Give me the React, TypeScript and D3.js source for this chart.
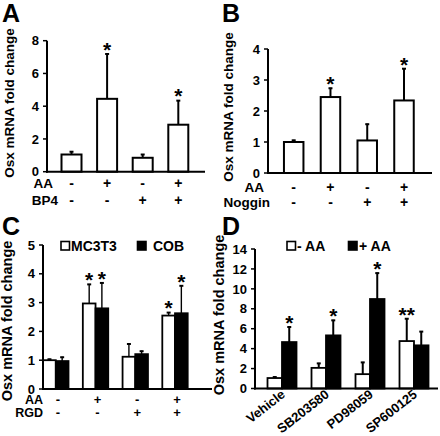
import React from "react";
import * as d3 from "d3";

// ---------- Panel A ----------
const aMeans = [1.05, 4.45, 0.85, 2.87];
const aErrTops = [1.25, 7.22, 1.08, 4.37];
const aStars = ["", "*", "", "*"];
const aTicks = [0, 2, 4, 6, 8];
const aRow1 = ["-", "+", "-", "+"];
const aRow2 = ["-", "-", "+", "+"];
const aRowNames = ["AA", "BP4"];

// ---------- Panel B ----------
const bMeans = [1.0, 2.45, 1.05, 2.34];
const bErrTops = [1.07, 2.75, 1.59, 3.38];
const bStars = ["", "*", "", "*"];
const bTicks = [0, 1, 2, 3, 4];
const bRow1 = ["-", "+", "-", "+"];
const bRow2 = ["-", "-", "+", "+"];
const bRowNames = ["AA", "Noggin"];

// ---------- Panel C ----------
const cSeries = ["MC3T3", "COB"];
const cMC3T3 = [1.0, 2.97, 1.12, 2.55];
const cMC3T3Err = [1.05, 3.65, 1.58, 2.67];
const cMC3T3Stars = ["", "*", "", "*"];
const cCOB = [0.97, 2.8, 1.21, 2.63];
const cCOBErr = [1.12, 3.7, 1.33, 3.6];
const cCOBStars = ["", "*", "", "*"];
const cTicks = [0, 1, 2, 3, 4, 5];
const cRow1 = ["-", "+", "-", "+"];
const cRow2 = ["-", "-", "+", "+"];
const cRowNames = ["AA", "RGD"];

// ---------- Panel D ----------
const dCategories = ["Vehicle", "SB203580", "PD98059", "SP600125"];
const dSeries = ["- AA", "+ AA"];
const dMinus = [1.05, 2.07, 1.44, 4.76];
const dMinusErr = [1.2, 2.57, 2.67, 7.05];
const dMinusStars = ["", "", "", "**"];
const dPlus = [4.66, 5.33, 8.98, 4.33];
const dPlusErr = [6.22, 6.89, 11.63, 5.76];
const dPlusStars = ["*", "*", "*", ""];
const dTicks = [0, 2, 4, 6, 8, 10, 12, 14];

const FONT = "'Liberation Sans', Arial, Helvetica, sans-serif";
const idx = ["0", "1", "2", "3"];

function YAxis({ x, y, ticks, fs = 13 }) {
  return (
    <g>
      <line x1={x} x2={x} y1={y(ticks[0]) + 1} y2={y(ticks[ticks.length - 1])} stroke="#000" strokeWidth={2} />
      {ticks.map((t) => (
        <g key={t}>
          <line x1={x - 4} x2={x} y1={y(t)} y2={y(t)} stroke="#000" strokeWidth={1.5} />
          <text x={x - 8} y={y(t)} dy="0.36em" textAnchor="end" fontSize={fs} fontWeight="bold" fontFamily={FONT}>
            {t}
          </text>
        </g>
      ))}
    </g>
  );
}

function ErrBar({ cx, y0, y1, sw = 2, color = "#000" }) {
  return (
    <g>
      <line x1={cx} x2={cx} y1={y0} y2={y1} stroke={color} strokeWidth={sw} />
      <line x1={cx - 2} x2={cx + 2} y1={y1 + 0.5} y2={y1 + 0.5} stroke={color} strokeWidth={2} />
    </g>
  );
}

function Star({ cx, yTop, s }) {
  if (!s) return null;
  const fs = 21;
  return (
    <text x={cx} y={yTop - 3 + 0.3 * fs} textAnchor="middle" fontSize={fs} fontWeight="bold" fontFamily={FONT}>
      {s}
    </text>
  );
}

function SinglePanel({ letter, lx, means, errs, stars, ticks, yDomainMax, yRange, axisX, xEnd, pointRange, bw, rows, rowNames, rowNameX, rowY, ylabelX, ylabelY, ylabelFs }) {
  const y = d3.scaleLinear().domain([0, yDomainMax]).range(yRange);
  const x = d3.scalePoint().domain(idx).range(pointRange);
  return (
    <g>
      <text x={lx} y={22} fontSize={25} fontWeight="bold" fontFamily={FONT}>{letter}</text>
      <text transform={`translate(${ylabelX},${ylabelY}) rotate(-90)`} textAnchor="middle" fontSize={ylabelFs} fontWeight="bold" fontFamily={FONT}>
        Osx mRNA fold change
      </text>
      {means.map((m, i) => {
        const cx = x(idx[i]);
        return (
          <g key={i}>
            <ErrBar cx={cx} y0={y(m)} y1={y(errs[i])} />
            <rect x={cx - bw / 2} y={y(m)} width={bw} height={y(0) - y(m)} fill="#fff" stroke="#000" strokeWidth={2} />
            <Star cx={cx} yTop={y(errs[i])} s={stars[i]} />
          </g>
        );
      })}
      <YAxis x={axisX} y={y} ticks={ticks} />
      <line x1={axisX - 1} x2={xEnd} y1={y(0)} y2={y(0)} stroke="#000" strokeWidth={2} />
      {rows.map((row, r) => (
        <g key={r}>
          <text x={rowNameX[r]} y={rowY[r]} textAnchor="end" fontSize={13.5} fontWeight="bold" fontFamily={FONT}>{rowNames[r]}</text>
          {row.map((s, i) => (
            <text key={i} x={x(idx[i])} y={rowY[r]} textAnchor="middle" fontSize={14} fontWeight="bold" fontFamily={FONT}>{s}</text>
          ))}
        </g>
      ))}
    </g>
  );
}

function PairPanel({ letter, lx, ly, s1, s1e, s1s, s2, s2e, s2s, ticks, yDomainMax, yRange, axisX, xEnd, pointRange, bw, ylabelX, ylabelY, ylabelFs, legend, legendX, legendTextX, legendY, errSw, children }) {
  const y = d3.scaleLinear().domain([0, yDomainMax]).range(yRange);
  const x = d3.scalePoint().domain(idx).range(pointRange);
  return (
    <g>
      <text x={lx} y={ly} fontSize={25} fontWeight="bold" fontFamily={FONT}>{letter}</text>
      <text transform={`translate(${ylabelX},${ylabelY}) rotate(-90)`} textAnchor="middle" fontSize={ylabelFs} fontWeight="bold" fontFamily={FONT}>
        Osx mRNA fold change
      </text>
      {legend.map((name, k) => (
        <g key={name}>
          <rect x={legendX[k]} y={legendY} width={8.5} height={8.5} fill={k === 0 ? "#fff" : "#000"} stroke="#000" strokeWidth={1.6} />
          <text x={legendTextX[k]} y={legendY + 9.5} fontSize={14} fontWeight="bold" fontFamily={FONT}>{name}</text>
        </g>
      ))}
      {s1.map((m, i) => {
        const cx = x(idx[i]);
        const c1 = cx - bw / 2;
        const c2 = cx + bw / 2;
        return (
          <g key={i}>
            <ErrBar cx={c1} y0={y(m)} y1={y(s1e[i])} sw={errSw} />
            <ErrBar cx={c2} y0={y(s2[i])} y1={y(s2e[i])} sw={errSw} />
            <rect x={cx - bw} y={y(m)} width={bw} height={y(0) - y(m)} fill="#fff" stroke="#000" strokeWidth={1.8} />
            <rect x={cx} y={y(s2[i])} width={bw} height={y(0) - y(s2[i])} fill="#000" stroke="#000" strokeWidth={1.8} />
            <Star cx={c1} yTop={y(s1e[i])} s={s1s[i]} />
            <Star cx={c2} yTop={y(s2e[i])} s={s2s[i]} />
          </g>
        );
      })}
      <YAxis x={axisX} y={y} ticks={ticks} />
      <line x1={axisX - 1} x2={xEnd} y1={y(0)} y2={y(0)} stroke="#000" strokeWidth={2} />
      {children && children(x)}
    </g>
  );
}

export default function App() {
  return (
    <svg width={440} height={436} style={{ position: "absolute", left: 0, top: 0, background: "#fff" }}>
      <rect width={440} height={436} fill="#fff" />
      <SinglePanel
        letter="A" lx={2} means={aMeans} errs={aErrTops} stars={aStars} ticks={aTicks}
        yDomainMax={8} yRange={[171.7, 40.7]} axisX={47} xEnd={205}
        pointRange={[71.5, 178.3]} bw={20}
        rows={[aRow1, aRow2]} rowNames={aRowNames} rowNameX={[53, 58]} rowY={[187.5, 205]}
        ylabelX={14} ylabelY={103} ylabelFs={13.5}
      />
      <SinglePanel
        letter="B" lx={222} means={bMeans} errs={bErrTops} stars={bStars} ticks={bTicks}
        yDomainMax={4} yRange={[173, 49]} axisX={268} xEnd={432}
        pointRange={[293.7, 404]} bw={19.5}
        rows={[bRow1, bRow2]} rowNames={bRowNames} rowNameX={[264, 270]} rowY={[192, 206.5]}
        ylabelX={233} ylabelY={107} ylabelFs={13.5}
      />
      <PairPanel
        letter="C" lx={2} ly={235} s1={cMC3T3} s1e={cMC3T3Err} s1s={cMC3T3Stars} s2={cCOB} s2e={cCOBErr} s2s={cCOBStars}
        ticks={cTicks} yDomainMax={5} yRange={[389, 245]} axisX={43} xEnd={212}
        pointRange={[55.8, 175]} bw={12.7} ylabelX={11.5} ylabelY={321} ylabelFs={14.5}
        legend={cSeries} legendX={[61, 137.5]} legendTextX={[71, 153]} legendY={241.5} errSw={1.4}
      >
        {(x) => (
          <g>
            {[cRow1, cRow2].map((row, r) => (
              <g key={r}>
                <text x={43} y={[404.3, 416.8][r]} textAnchor="end" fontSize={12.5} fontWeight="bold" fontFamily={FONT}>{cRowNames[r]}</text>
                {row.map((s, i) => (
                  <text key={i} x={x(idx[i]) + 2} y={[404.3, 416.8][r]} textAnchor="middle" fontSize={13} fontWeight="bold" fontFamily={FONT}>{s}</text>
                ))}
              </g>
            ))}
          </g>
        )}
      </PairPanel>
      <PairPanel
        letter="D" lx={222} ly={235} s1={dMinus} s1e={dMinusErr} s1s={dMinusStars} s2={dPlus} s2e={dPlusErr} s2s={dPlusStars}
        ticks={dTicks} yDomainMax={14} yRange={[388.5, 249]} axisX={255} xEnd={438}
        pointRange={[282, 414]} bw={14.5} ylabelX={224} ylabelY={315} ylabelFs={14.5}
        legend={dSeries} legendX={[287, 348.5]} legendTextX={[297, 359]} legendY={241.5} errSw={2}
      >
        {(x) => (
          <g>
            {dCategories.map((c, i) => (
              <text key={c} transform={`translate(${x(idx[i]) + 4},${396}) rotate(-38)`} textAnchor="end" fontSize={13} fontWeight="bold" fontFamily={FONT}>{c}</text>
            ))}
          </g>
        )}
      </PairPanel>
    </svg>
  );
}
